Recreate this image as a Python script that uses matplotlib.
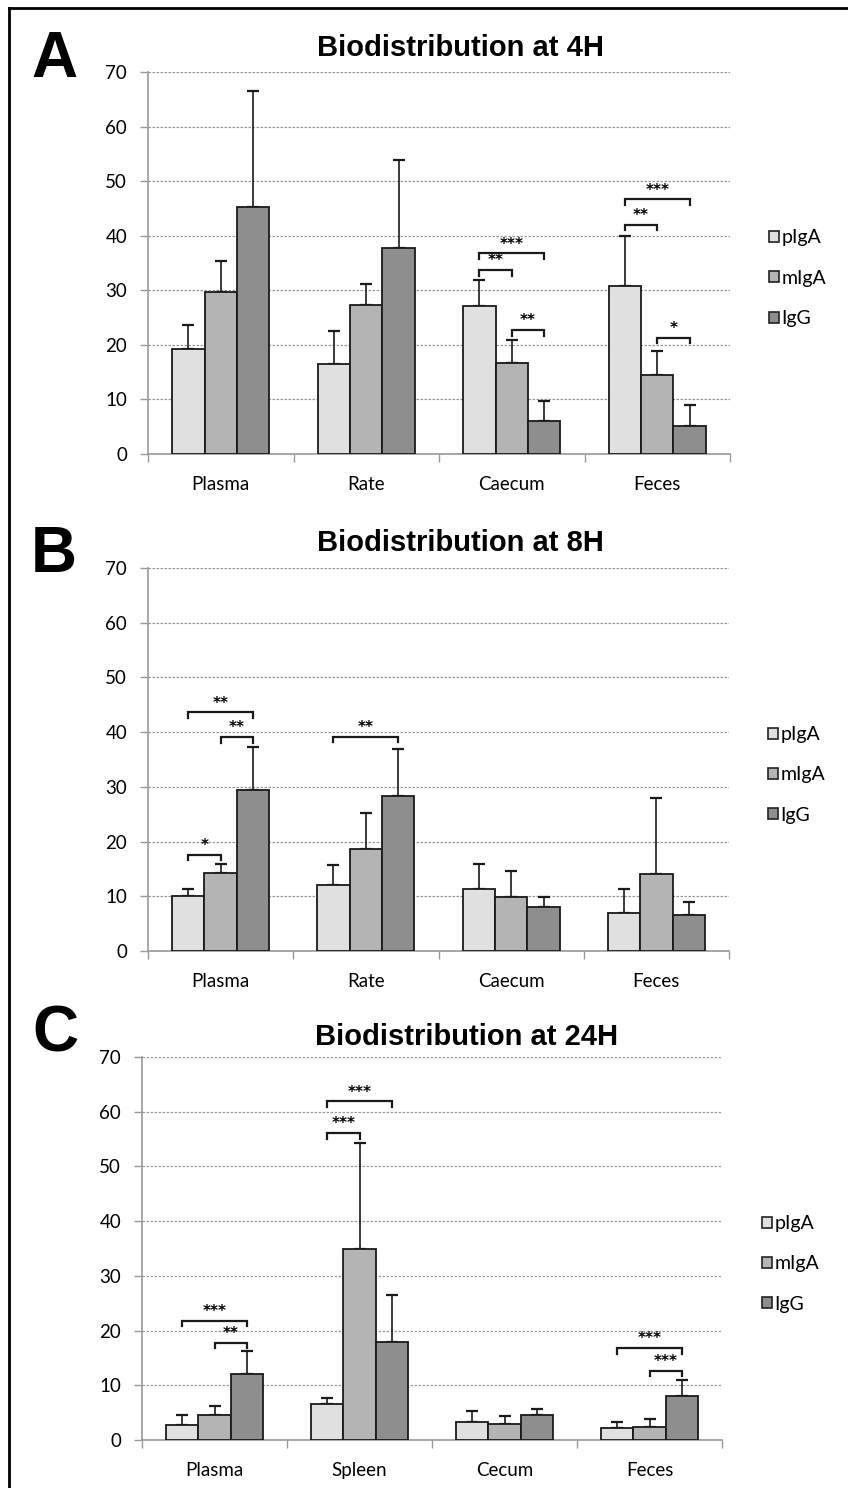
import matplotlib
matplotlib.use("Agg")
import matplotlib.pyplot as plt
from matplotlib.patches import Patch
from matplotlib.lines import Line2D
from matplotlib import font_manager
import numpy as np

# ---- data ----
series = ["pIgA", "mIgA", "IgG"]
colors = ["#e0e0e0", "#b4b4b4", "#8e8e8e"]

cats_4h = ["Plasma", "Rate", "Caecum", "Feces"]
mean_4h = [[19.2, 16.5, 27.2, 30.7],
           [29.6, 27.3, 16.7, 14.4],
           [45.3, 37.7, 6.1, 5.2]]
sd_4h = [[4.4, 6.1, 4.7, 9.3],
         [5.7, 3.9, 4.1, 4.5],
         [21.2, 16.1, 3.6, 3.7]]
sig_4h = [(2, 0, 2, 36.8, "***"), (2, 0, 1, 33.7, "**"), (2, 1, 2, 22.7, "**"),
          (3, 0, 2, 46.7, "***"), (3, 0, 1, 42.0, "**"), (3, 1, 2, 21.3, "*")]

cats_8h = ["Plasma", "Rate", "Caecum", "Feces"]
mean_8h = [[10.0, 12.1, 11.3, 7.0],
           [14.3, 18.6, 9.9, 14.1],
           [29.4, 28.3, 8.0, 6.6]]
sd_8h = [[1.4, 3.6, 4.6, 4.4],
         [1.6, 6.6, 4.8, 13.9],
         [7.8, 8.7, 1.8, 2.4]]
sig_8h = [(0, 0, 2, 43.6, "**"), (0, 1, 2, 39.1, "**"), (0, 0, 1, 17.6, "*"),
          (1, 0, 2, 39.2, "**")]

cats_24h = ["Plasma", "Spleen", "Cecum", "Feces"]
mean_24h = [[2.8, 6.5, 3.3, 2.2],
            [4.6, 34.9, 2.9, 2.3],
            [12.1, 17.9, 4.5, 8.0]]
sd_24h = [[1.8, 1.1, 2.0, 1.0],
          [1.7, 19.4, 1.4, 1.6],
          [4.1, 8.6, 1.2, 2.9]]
sig_24h = [(0, 0, 2, 21.8, "***"), (0, 1, 2, 17.8, "**"),
           (1, 0, 2, 61.9, "***"), (1, 0, 1, 56.1, "***"),
           (3, 0, 2, 16.8, "***"), (3, 1, 2, 12.7, "***")]

yticks = [0, 10, 20, 30, 40, 50, 60, 70]

installed = {f.name for f in font_manager.fontManager.ttflist}
title_font = "Liberation Sans Narrow" if "Liberation Sans Narrow" in installed else "Liberation Sans"
label_font = "Lato"

W, H = 848, 1488
BW = 0.223


def panel(rect, letter, title, title_xy, letter_xy, cats, means, sds, sigs, leg_x):
    l, r, top, bot = rect
    ax = fig.add_axes([l / W, 1 - bot / H, (r - l) / W, (bot - top) / H])
    x = np.arange(len(cats))
    for j in range(3):
        xs = x + (j - 1) * BW
        ax.bar(xs, means[j], BW, color=colors[j], edgecolor="#1a1a1a",
               linewidth=1.3, zorder=3, label=series[j])
        ax.errorbar(xs, means[j], yerr=[np.zeros(len(cats)), sds[j]], fmt="none",
                    ecolor="#1a1a1a", elinewidth=1.2, capsize=4.3, capthick=1.6,
                    zorder=2)
    # significance brackets
    for c, a, b, y, txt in sigs:
        x1 = c + (a - 1) * BW
        x2 = c + (b - 1) * BW
        ax.plot([x1, x1, x2, x2], [y - 1.0, y, y, y - 1.0], color="#1a1a1a",
                lw=1.6, zorder=4, solid_joinstyle="miter")
        ax.text((x1 + x2) / 2, y + 0.3, txt, ha="center", va="bottom",
                fontsize=11, fontweight="bold", family="DejaVu Sans", zorder=4)

    ax.set_xlim(-0.5, len(cats) - 0.5)
    ax.set_ylim(0, 70)
    ax.set_yticks(yticks)
    ax.set_xticks(np.arange(len(cats) + 1) - 0.5)
    ax.set_xticklabels([])
    ax.set_xticks(x, minor=True)
    ax.set_xticklabels(cats, minor=True, family=label_font, fontsize=13.5)
    ax.tick_params(axis="x", which="major", length=6, color="#999999", width=1)
    ax.tick_params(axis="x", which="minor", length=0, pad=16)
    ax.tick_params(axis="y", length=6, color="#999999", width=1, pad=9,
                   labelsize=13.5)
    for t in ax.get_yticklabels():
        t.set_family(label_font)
    ax.yaxis.grid(True, color="#9a9a9a", linestyle=(0, (2, 1.2)), lw=0.9)
    ax.set_axisbelow(True)
    for s in ["top", "right"]:
        ax.spines[s].set_visible(False)
    for s in ["left", "bottom"]:
        ax.spines[s].set_color("#999999")
        ax.spines[s].set_linewidth(1.2)

    handles = [Patch(facecolor=colors[j], edgecolor="#222222", lw=1.2)
               for j in range(3)]
    ax.legend(handles, series, loc="center left", bbox_to_anchor=(leg_x, 0.46),
              frameon=False, borderpad=0, borderaxespad=0, handlelength=0.5,
              handleheight=0.5, handletextpad=0.15, labelspacing=1.2,
              prop={"family": label_font, "size": 14})

    fig.text(title_xy[0] / W, 1 - title_xy[1] / H, title, ha="center", va="center",
             fontsize=21, fontweight="bold", family=title_font)
    fig.text(letter_xy[0] / W, 1 - letter_xy[1] / H, letter, ha="center",
             va="center", fontsize=46, fontweight="bold", family="Liberation Sans")
    return ax


fig = plt.figure(figsize=(W / 100, H / 100), dpi=100)

panel((148, 730, 72, 454), "A", "Biodistribution at 4H", (460, 48), (54, 60),
      cats_4h, mean_4h, sd_4h, sig_4h, 1.067)
panel((148, 729, 568, 951), "B", "Biodistribution at 8H", (460, 543), (54, 555),
      cats_8h, mean_8h, sd_8h, sig_8h, 1.067)
panel((142, 722, 1057, 1440), "C", "Biodistribution at 24H", (467, 1037), (55, 1035),
      cats_24h, mean_24h, sd_24h, sig_24h, 1.069)

# frame lines (top and left)
fig.add_artist(Line2D([9 / W, 9 / W], [0, 1 - 8 / H], color="black", lw=2))
fig.add_artist(Line2D([9 / W, 1], [1 - 8 / H, 1 - 8 / H], color="black", lw=2))

fig.savefig("out.png", dpi=100)
